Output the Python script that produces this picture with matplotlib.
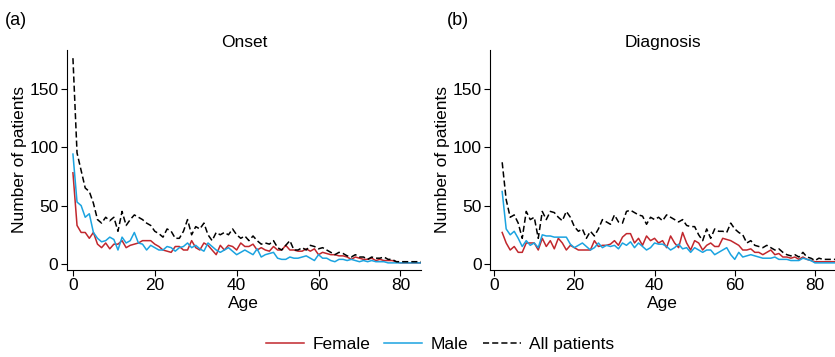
import matplotlib
matplotlib.use('Agg')
import matplotlib.pyplot as plt
from matplotlib.lines import Line2D

plt.rcParams['font.family'] = ['Liberation Sans', 'DejaVu Sans']
plt.rcParams['font.size'] = 12.5

# ages
onset_age = list(range(0, 86))
diag_age = list(range(2, 86))

# onset counts
onset_all = [176, 95, 80, 65, 62, 52, 38, 35, 40, 37, 40, 28, 45, 33, 38, 42, 40, 38, 35, 33,
             28, 26, 23, 30, 28, 22, 22, 28, 38, 25, 32, 30, 35, 25, 20, 27, 25, 27, 25, 30,
             25, 22, 24, 20, 24, 20, 17, 18, 17, 20, 14, 12, 16, 20, 12, 12, 14, 12, 16, 15,
             13, 14, 12, 10, 8, 10, 9, 7, 6, 8, 6, 6, 4, 6, 5, 5, 6, 4, 4, 2,
             2, 2, 2, 2, 2, 2]
onset_female = [78, 33, 27, 27, 22, 27, 17, 14, 18, 13, 17, 17, 20, 14, 16, 17, 18, 20, 20, 20,
                17, 15, 12, 11, 10, 15, 15, 12, 12, 20, 14, 12, 18, 16, 12, 8, 16, 12, 16, 15,
                12, 18, 15, 15, 17, 12, 14, 12, 11, 15, 12, 12, 16, 12, 12, 11, 11, 13, 11, 13,
                8, 10, 9, 8, 8, 7, 7, 6, 4, 6, 5, 4, 4, 5, 3, 4, 3, 3, 3, 2,
                1, 1, 1, 1, 1, 1]
onset_male = [94, 53, 50, 40, 43, 27, 22, 19, 20, 23, 21, 12, 23, 18, 20, 27, 18, 17, 12, 16,
              14, 12, 12, 15, 14, 11, 14, 15, 18, 14, 16, 13, 11, 18, 15, 12, 10, 12, 14, 11,
              8, 10, 12, 10, 8, 13, 6, 8, 9, 10, 5, 4, 4, 6, 5, 5, 6, 7, 5, 3,
              8, 5, 5, 3, 2, 4, 4, 3, 4, 3, 2, 3, 2, 3, 2, 2, 2, 1, 1, 1,
              1, 1, 1, 1, 1, 1]

# diagnosis counts (from age 2)
diag_all = [87, 55, 40, 42, 35, 22, 45, 38, 40, 22, 45, 38, 45, 44, 40, 37, 45, 40,
            32, 28, 30, 22, 28, 24, 30, 38, 36, 34, 42, 36, 35, 45, 46, 44, 42, 41, 34, 40,
            38, 40, 37, 42, 40, 38, 36, 38, 33, 32, 32, 25, 20, 30, 22, 30, 28, 28, 27, 35,
            30, 27, 25, 18, 20, 16, 15, 14, 16, 14, 12, 13, 10, 8, 7, 8, 6, 10, 6, 5,
            3, 5, 4, 4, 4, 4]
diag_female = [27, 18, 12, 15, 10, 10, 18, 18, 18, 12, 22, 15, 20, 13, 22, 18, 12, 16,
               14, 12, 12, 12, 12, 20, 15, 16, 16, 17, 20, 16, 23, 26, 26, 18, 22, 16, 24, 20,
               22, 18, 20, 14, 24, 18, 14, 27, 18, 12, 20, 18, 12, 16, 18, 15, 15, 22, 21, 20,
               18, 16, 12, 12, 13, 10, 10, 8, 10, 12, 8, 9, 6, 6, 5, 6, 4, 6, 4, 3,
               2, 2, 2, 2, 2, 2]
diag_male = [62, 30, 25, 28, 22, 15, 20, 16, 18, 14, 25, 24, 24, 23, 23, 23, 23, 17,
             14, 16, 18, 15, 12, 14, 18, 14, 16, 15, 16, 13, 18, 16, 19, 14, 18, 15, 12, 14,
             18, 17, 17, 15, 12, 14, 17, 13, 14, 10, 14, 12, 10, 12, 12, 8, 10, 12, 14, 8,
             4, 10, 6, 7, 8, 7, 6, 5, 5, 5, 6, 4, 4, 4, 3, 3, 3, 5, 4, 3,
             1, 1, 1, 1, 1, 1]

red = '#c1272d'
blue = '#1ba3e0'

fig = plt.figure(figsize=(8.35, 3.57), dpi=100)
ax1 = fig.add_axes([0.080, 0.244, 0.424, 0.616])
ax2 = fig.add_axes([0.587, 0.244, 0.413, 0.616])

panels = [
    (ax1, onset_age, onset_female, onset_male, onset_all, 'Onset', (-1.5, 85)),
    (ax2, diag_age, diag_female, diag_male, diag_all, 'Diagnosis', (-1, 85)),
]
for ax, age, fem, male, allp, title, xl in panels:
    ax.plot(age, fem, color=red, lw=1.1)
    ax.plot(age, male, color=blue, lw=1.1)
    ax.plot(age, allp, color='black', lw=1.1, ls=(0, (4, 2)))
    ax.set_xlim(*xl)
    ax.set_ylim(-5, 183)
    ax.set_xticks([0, 20, 40, 60, 80])
    ax.set_yticks([0, 50, 100, 150])
    ax.spines['top'].set_visible(False)
    ax.spines['right'].set_visible(False)
    ax.tick_params(direction='out', length=4, pad=2)
    ax.set_xlabel('Age', labelpad=2)
    ax.set_ylabel('Number of patients', labelpad=2)
    ax.set_title(title, fontsize=12.5, pad=-2)

fig.text(0.006, 0.942, '(a)', fontsize=13, va='center')
fig.text(0.535, 0.942, '(b)', fontsize=13, va='center')

handles = [Line2D([], [], color=red, lw=1.1),
           Line2D([], [], color=blue, lw=1.1),
           Line2D([], [], color='black', lw=1.1, ls=(0, (4, 2)))]
fig.legend(handles, ['Female', 'Male', 'All patients'], loc='center',
           bbox_to_anchor=(0.527, 0.035), ncol=3, frameon=False,
           handlelength=2.2, handletextpad=0.5, columnspacing=0.8)

plt.savefig('out.png', dpi=100)
